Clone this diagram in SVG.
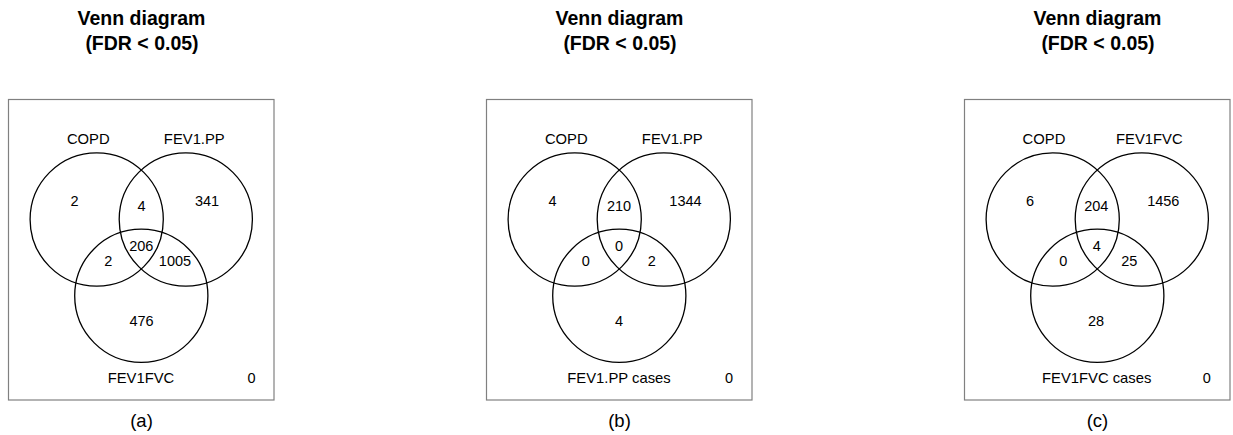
<svg xmlns="http://www.w3.org/2000/svg" width="1233" height="435" viewBox="0 0 1233 435">
<style>
text{font-family:"Liberation Sans",Arial,sans-serif;fill:#000;text-anchor:middle}
.title{font-size:19.5px;font-weight:bold}
.lab{font-size:14.8px}
.num{font-size:14.5px}
.cap{font-size:18.5px}
.box{fill:none;stroke:#808080;stroke-width:1.2}
.set{fill:none;stroke:#000;stroke-width:1.3}
</style>
<rect width="1233" height="435" fill="#fff"/>
<g id="panel-a">
<text class="title" x="141.5" y="25">Venn diagram</text>
<text class="title" x="142" y="49.5">(FDR &lt; 0.05)</text>
<rect class="box" x="8.5" y="99.5" width="265.5" height="300.5"/>
<circle class="set" cx="96.7" cy="219.5" r="66.6"/>
<circle class="set" cx="185.8" cy="219.5" r="66.6"/>
<circle class="set" cx="141.3" cy="295.8" r="66.6"/>
<text class="lab" x="88.3" y="144.3">COPD</text>
<text class="lab" x="194.3" y="144.3">FEV1.PP</text>
<text class="num" x="74.5" y="206">2</text>
<text class="num" x="141.5" y="210.7">4</text>
<text class="num" x="207" y="206">341</text>
<text class="num" x="141.3" y="250.7">206</text>
<text class="num" x="108.3" y="266">2</text>
<text class="num" x="175" y="266">1005</text>
<text class="num" x="141.5" y="326">476</text>
<text class="lab" x="141" y="383.3">FEV1FVC</text>
<text class="num" x="251.5" y="383.3">0</text>
<text class="cap" x="141.5" y="426.5">(a)</text>
</g>
<g id="panel-b" transform="translate(478,0)">
<text class="title" x="141.5" y="25">Venn diagram</text>
<text class="title" x="142" y="49.5">(FDR &lt; 0.05)</text>
<rect class="box" x="8.5" y="99.5" width="265.5" height="300.5"/>
<circle class="set" cx="96.7" cy="219.5" r="66.6"/>
<circle class="set" cx="185.8" cy="219.5" r="66.6"/>
<circle class="set" cx="141.3" cy="295.8" r="66.6"/>
<text class="lab" x="88.3" y="144.3">COPD</text>
<text class="lab" x="194.3" y="144.3">FEV1.PP</text>
<text class="num" x="74.5" y="206">4</text>
<text class="num" x="141" y="210.7">210</text>
<text class="num" x="207.5" y="206">1344</text>
<text class="num" x="141" y="250.7">0</text>
<text class="num" x="107.7" y="266">0</text>
<text class="num" x="173.7" y="266">2</text>
<text class="num" x="141" y="326">4</text>
<text class="lab" x="141" y="383.3">FEV1.PP cases</text>
<text class="num" x="251" y="383.3">0</text>
<text class="cap" x="141.5" y="426.5">(b)</text>
</g>
<g id="panel-c" transform="translate(956,0)">
<text class="title" x="141.5" y="25">Venn diagram</text>
<text class="title" x="142" y="49.5">(FDR &lt; 0.05)</text>
<rect class="box" x="8.5" y="99.5" width="265.5" height="300.5"/>
<circle class="set" cx="96.7" cy="219.5" r="66.6"/>
<circle class="set" cx="185.8" cy="219.5" r="66.6"/>
<circle class="set" cx="141.3" cy="295.8" r="66.6"/>
<text class="lab" x="88" y="144.3">COPD</text>
<text class="lab" x="193.3" y="144.3">FEV1FVC</text>
<text class="num" x="74" y="206">6</text>
<text class="num" x="140.3" y="210.7">204</text>
<text class="num" x="207.3" y="206">1456</text>
<text class="num" x="140.7" y="250.7">4</text>
<text class="num" x="107.3" y="266">0</text>
<text class="num" x="173.3" y="266">25</text>
<text class="num" x="140" y="326">28</text>
<text class="lab" x="140.7" y="383.3">FEV1FVC cases</text>
<text class="num" x="250.7" y="383.3">0</text>
<text class="cap" x="141.5" y="426.5">(c)</text>
</g>
<g id="connectors"/>
</svg>
